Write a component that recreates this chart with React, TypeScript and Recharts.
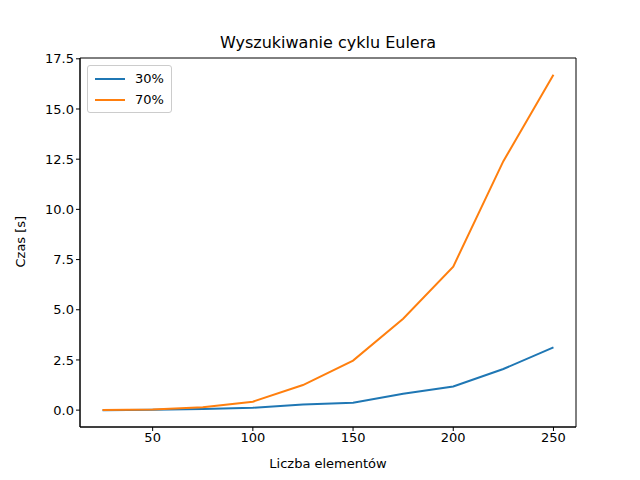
import { LineChart, Line, XAxis, YAxis, ReferenceArea } from "recharts";

const elements = [25, 50, 75, 100, 125, 150, 175, 200, 225, 250];
const series30 = [0.0, 0.02, 0.06, 0.12, 0.28, 0.37, 0.82, 1.18, 2.05, 3.13];
const series70 = [0.01, 0.03, 0.14, 0.42, 1.25, 2.47, 4.55, 7.15, 12.4, 16.7];
const xTicks = [50, 100, 150, 200, 250];
const yTicks = [0, 2.5, 5, 7.5, 10, 12.5, 15, 17.5];

const data = elements.map((n, i) => ({ n, s30: series30[i], s70: series70[i] }));

const FONT = "DejaVu Sans, sans-serif";
const X_DOMAIN: [number, number] = [13.75, 261.25];
const Y_DOMAIN: [number, number] = [-0.84, 17.54];

function LegendBox() {
  const items = [
    { label: "30%", color: "#1f77b4" },
    { label: "70%", color: "#ff7f0e" },
  ];
  return (
    <div
      style={{
        position: "absolute",
        left: 87,
        top: 65,
        border: "1px solid #ccc",
        borderRadius: 3,
        background: "white",
        padding: "2px 7px",
        fontFamily: FONT,
        fontSize: 13,
        zIndex: 2,
      }}
    >
      {items.map((it) => (
        <div key={it.label} style={{ display: "flex", alignItems: "center", height: 21 }}>
          <svg width={30} height={4} style={{ marginRight: 10 }}>
            <line x1={0} y1={2} x2={30} y2={2} stroke={it.color} strokeWidth={2} />
          </svg>
          {it.label}
        </div>
      ))}
    </div>
  );
}

export default function App() {
  return (
    <div style={{ position: "absolute", left: 0, top: 0, width: 640, height: 480, background: "white" }}>
      <div
        style={{
          position: "absolute",
          top: 33,
          left: 80,
          width: 496,
          textAlign: "center",
          fontFamily: FONT,
          fontSize: 16,
        }}
      >
        Wyszukiwanie cyklu Eulera
      </div>
      <LegendBox />
      <LineChart width={640} height={480} data={data} margin={{ top: 58, right: 64, left: 8, bottom: 8 }}>
        <XAxis
          dataKey="n"
          type="number"
          domain={X_DOMAIN}
          ticks={xTicks}
          height={45}
          stroke="#000"
          tickSize={4}
          tick={{ fill: "#000", fontSize: 13, fontFamily: FONT }}
          label={{ value: "Liczba elementów", position: "insideBottom", offset: 4, fill: "#000", fontSize: 13, fontFamily: FONT }}
        />
        <YAxis
          type="number"
          domain={Y_DOMAIN}
          ticks={yTicks}
          width={72}
          stroke="#000"
          tickSize={4}
          tickFormatter={(v: number) => v.toFixed(1)}
          tick={{ fill: "#000", fontSize: 13, fontFamily: FONT }}
          label={{ value: "Czas [s]", angle: -90, position: "insideLeft", offset: 12, dy: 25, fill: "#000", fontSize: 13, fontFamily: FONT }}
        />
        <ReferenceArea x1={X_DOMAIN[0]} x2={X_DOMAIN[1]} y1={Y_DOMAIN[0]} y2={Y_DOMAIN[1]} fill="none" stroke="#000" strokeOpacity={1} />
        <Line dataKey="s30" name="30%" stroke="#1f77b4" strokeWidth={2} dot={false} isAnimationActive={false} />
        <Line dataKey="s70" name="70%" stroke="#ff7f0e" strokeWidth={2} dot={false} isAnimationActive={false} />
      </LineChart>
    </div>
  );
}
